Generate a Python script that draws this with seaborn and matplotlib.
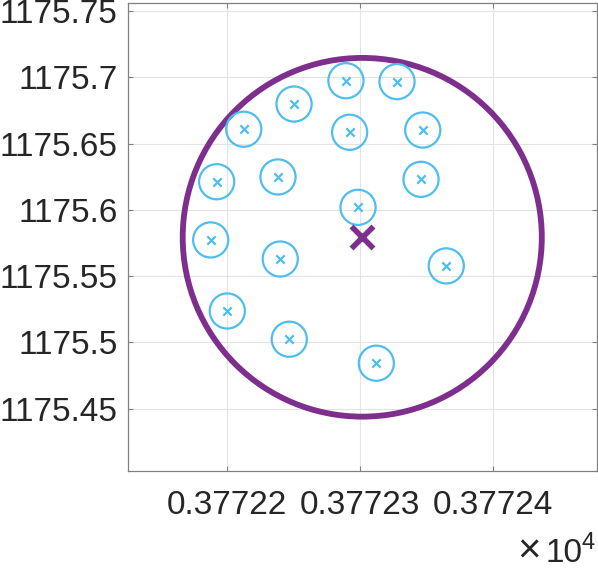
import numpy as np
import pandas as pd
import matplotlib
matplotlib.use("Agg")
import matplotlib.pyplot as plt
from matplotlib.patches import Circle
from matplotlib.ticker import FixedLocator, FuncFormatter
import seaborn as sns

# ---- data (x in raw units; axis shows x/1e4) ----
pts_x = [3772.2894, 3772.3279, 3772.2503, 3772.2124, 3772.2922, 3772.3473,
         3772.1920, 3772.2382, 3772.3460, 3772.2985, 3772.1875, 3772.2399,
         3772.3650, 3772.2000, 3772.2467, 3772.3123]
pts_y = [1175.6974, 1175.6967, 1175.6798, 1175.6608, 1175.6585, 1175.6602,
         1175.6212, 1175.6248, 1175.6230, 1175.6019, 1175.5773, 1175.5629,
         1175.5577, 1175.5237, 1175.5024, 1175.4843]
center_x = [3772.3017]
center_y = [1175.5793]
radius = 0.1353
x_ticks = [3772.2, 3772.3, 3772.4]
y_ticks = [1175.45, 1175.5, 1175.55, 1175.6, 1175.65, 1175.7, 1175.75]
x_lim = (3772.1248, 3772.4786)
y_lim = (1175.4030, 1175.7564)

BLUE = "#4DBEEE"
PURPLE = "#7E2F8E"

sns.set_theme(style="white")
plt.rcParams['font.family'] = ['Liberation Sans', 'DejaVu Sans']

fig = plt.figure(figsize=(5.98, 5.69), dpi=100)
W, H = 598, 569
ax = fig.add_axes([127.5 / W, 1 - 471 / H, (597 - 127.5) / W, (471 - 2.5) / H])

df = pd.DataFrame({"x": pts_x, "y": pts_y})
dfc = pd.DataFrame({"x": center_x, "y": center_y})

ax.add_patch(Circle((center_x[0], center_y[0]), radius, fill=False,
                    edgecolor=PURPLE, linewidth=4.2, zorder=2))
sns.scatterplot(data=df, x="x", y="y", ax=ax, marker="o", s=640,
                facecolors="none", edgecolor=BLUE, linewidth=1.6, zorder=3)
sns.scatterplot(data=df, x="x", y="y", ax=ax, marker="x", s=36,
                color=BLUE, linewidth=1.6, zorder=4)
sns.scatterplot(data=dfc, x="x", y="y", ax=ax, marker="x", s=250,
                color=PURPLE, linewidth=4.0, zorder=5)

ax.set_xlim(*x_lim)
ax.set_ylim(*y_lim)
ax.xaxis.set_major_locator(FixedLocator(x_ticks))
ax.yaxis.set_major_locator(FixedLocator(y_ticks))
ax.xaxis.set_major_formatter(FuncFormatter(lambda v, p: f"{v/1e4:.5f}"))
ax.yaxis.set_major_formatter(FuncFormatter(lambda v, p: f"{v:g}"))
ax.set_xlabel("")
ax.set_ylabel("")
ax.grid(True, color="#e3e3e3", linewidth=0.8)
ax.set_axisbelow(True)
for s in ax.spines.values():
    s.set_color("#808080")
    s.set_linewidth(0.9)
ax.tick_params(axis="both", direction="in", length=3.5, width=0.8,
               colors="#808080", labelcolor="#262626", labelsize=24,
               top=True, right=True, bottom=True, left=True)
ax.tick_params(axis="x", pad=14)
ax.tick_params(axis="y", pad=7)

fig.text(541 / W, 1 - 562 / H, "×", fontsize=29, color="#262626",
         ha="right", va="baseline")
fig.text(582 / W, 1 - 562 / H, "10", fontsize=24, color="#262626",
         ha="right", va="baseline")
fig.text(582 / W, 1 - 549 / H, "4", fontsize=17, color="#262626",
         ha="left", va="baseline")

fig.savefig("out.png", dpi=100)
